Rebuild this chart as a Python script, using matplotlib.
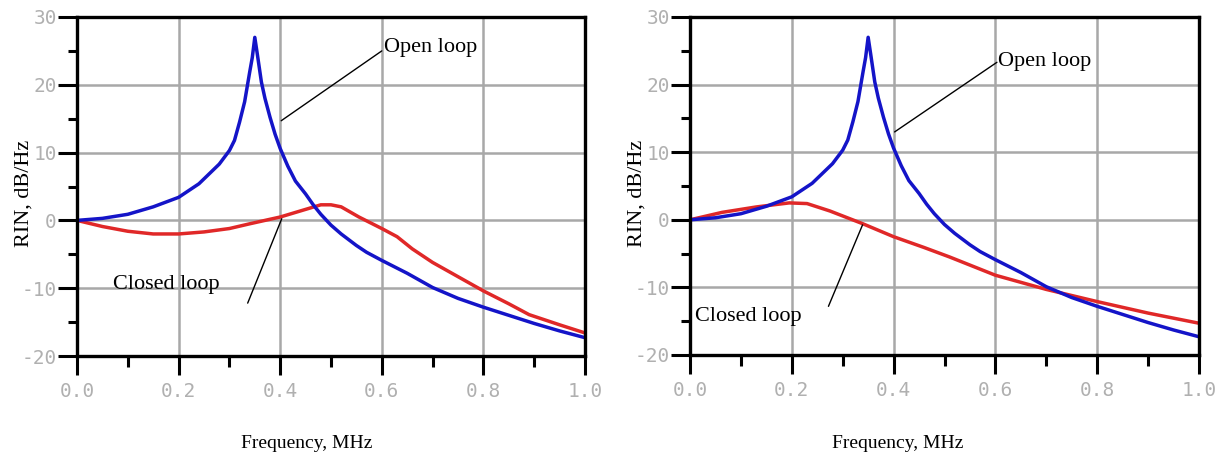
import matplotlib
matplotlib.use("Agg")
import matplotlib.pyplot as plt
from matplotlib.ticker import MultipleLocator

# open loop RIN (same in both panels)
f_open = [0.0, 0.05, 0.1, 0.15, 0.2, 0.24, 0.28, 0.3, 0.31, 0.32, 0.33, 0.34, 0.345,
          0.35, 0.355, 0.363, 0.37, 0.38, 0.39, 0.4, 0.415, 0.43, 0.45, 0.465, 0.48,
          0.5, 0.52, 0.55, 0.57, 0.6, 0.65, 0.7, 0.75, 0.8, 0.85, 0.9, 0.95, 1.0]
rin_open = [0.0, 0.3, 0.9, 2.0, 3.4, 5.4, 8.3, 10.3, 11.8, 14.5, 17.5, 21.9, 24.0,
            27.0, 24.5, 20.4, 18.0, 15.2, 12.7, 10.6, 8.0, 5.8, 3.9, 2.3, 0.9,
            -0.7, -2.0, -3.7, -4.7, -5.9, -7.8, -9.9, -11.5, -12.8, -14.0, -15.2, -16.3, -17.3]

# closed loop, left panel
f_closed1 = [0.0, 0.05, 0.1, 0.15, 0.2, 0.25, 0.3, 0.34, 0.4, 0.44, 0.48, 0.5, 0.52,
             0.555, 0.6, 0.63, 0.66, 0.7, 0.75, 0.8, 0.85, 0.89, 0.95, 1.0]
rin_closed1 = [0.0, -0.9, -1.6, -2.0, -2.0, -1.7, -1.2, -0.5, 0.5, 1.4, 2.3, 2.3, 2.0,
               0.5, -1.2, -2.4, -4.2, -6.2, -8.3, -10.4, -12.3, -13.9, -15.4, -16.6]

# closed loop, right panel
f_closed2 = [0.0, 0.063, 0.13, 0.195, 0.23, 0.275, 0.34, 0.4, 0.46, 0.51, 0.6,
             0.7, 0.8, 0.9, 1.0]
rin_closed2 = [0.0, 1.1, 1.9, 2.5, 2.4, 1.3, -0.6, -2.5, -4.1, -5.5, -8.2,
               -10.3, -12.1, -13.8, -15.3]

BLUE = "#1414c8"
RED = "#e02828"
GRID = "#a8a8a8"
TICK = "#b0b0b0"
SERIF = "Liberation Serif"
MONO = "DejaVu Sans Mono"

fig = plt.figure(figsize=(12.26, 4.59), dpi=100)
ax1 = fig.add_axes([77/1226, 103/459, 508/1226, 339/459])
ax2 = fig.add_axes([690/1226, 104/459, 509/1226, 338/459])


def style(ax):
    ax.set_xlim(0, 1)
    ax.set_ylim(-20, 30)
    ax.xaxis.set_major_locator(MultipleLocator(0.2))
    ax.xaxis.set_minor_locator(MultipleLocator(0.1))
    ax.yaxis.set_major_locator(MultipleLocator(10))
    ax.yaxis.set_minor_locator(MultipleLocator(5))
    ax.grid(True, which="major", color=GRID, lw=1.8)
    ax.set_axisbelow(True)
    for s in ax.spines.values():
        s.set_linewidth(2.4)
        s.set_color("black")
    ax.tick_params(axis="both", which="both", direction="out", width=2.2,
                   color="black", labelcolor=TICK)
    ax.tick_params(axis="y", which="major", length=14, pad=0.5)
    ax.tick_params(axis="y", which="minor", length=6.5)
    ax.tick_params(axis="x", which="major", length=14, pad=5)
    ax.tick_params(axis="x", which="minor", length=8)
    ax.set_xticklabels(["%.1f" % v for v in ax.get_xticks()])
    ax.set_yticklabels(["%d" % v for v in ax.get_yticks()])
    for lab in ax.get_xticklabels() + ax.get_yticklabels():
        lab.set_family(MONO)
        lab.set_fontsize(14)


for ax, fc, rc in [(ax1, f_closed1, rin_closed1), (ax2, f_closed2, rin_closed2)]:
    style(ax)
    ax.plot(fc, rc, color=RED, lw=2.5, solid_capstyle="round")
    ax.plot(f_open, rin_open, color=BLUE, lw=2.5, solid_capstyle="round")

line = dict(arrowstyle="-", color="black", lw=1.0, shrinkA=0, shrinkB=0)

# left panel labels
ax1.annotate("", xy=(0.402, 14.7), xytext=(0.60, 25.0), arrowprops=line)
ax1.text(0.605, 25.5, "Open loop", family=SERIF, fontsize=16, ha="left", va="center")
ax1.annotate("", xy=(0.336, -12.2), xytext=(0.403, 0.24), arrowprops=line)
ax1.text(0.071, -9.5, "Closed loop", family=SERIF, fontsize=16, ha="left", va="center")

# right panel labels
ax2.annotate("", xy=(0.402, 13.0), xytext=(0.603, 23.3), arrowprops=line)
ax2.text(0.606, 23.4, "Open loop", family=SERIF, fontsize=16, ha="left", va="center")
ax2.annotate("", xy=(0.272, -12.8), xytext=(0.339, -0.75), arrowprops=line)
ax2.text(0.009, -14.3, "Closed loop", family=SERIF, fontsize=16, ha="left", va="center")

for xl, yl in [(307/1226, 24/1226), (898/1226, 637/1226)]:
    fig.text(xl, 1 - 443/459, "Frequency, MHz", family=SERIF, fontsize=14,
             ha="center", va="center")
    fig.text(yl, 1 - 193/459, "RIN, dB/Hz", family=SERIF, fontsize=16,
             rotation=90, ha="center", va="center")

fig.savefig("out.png", dpi=100)
